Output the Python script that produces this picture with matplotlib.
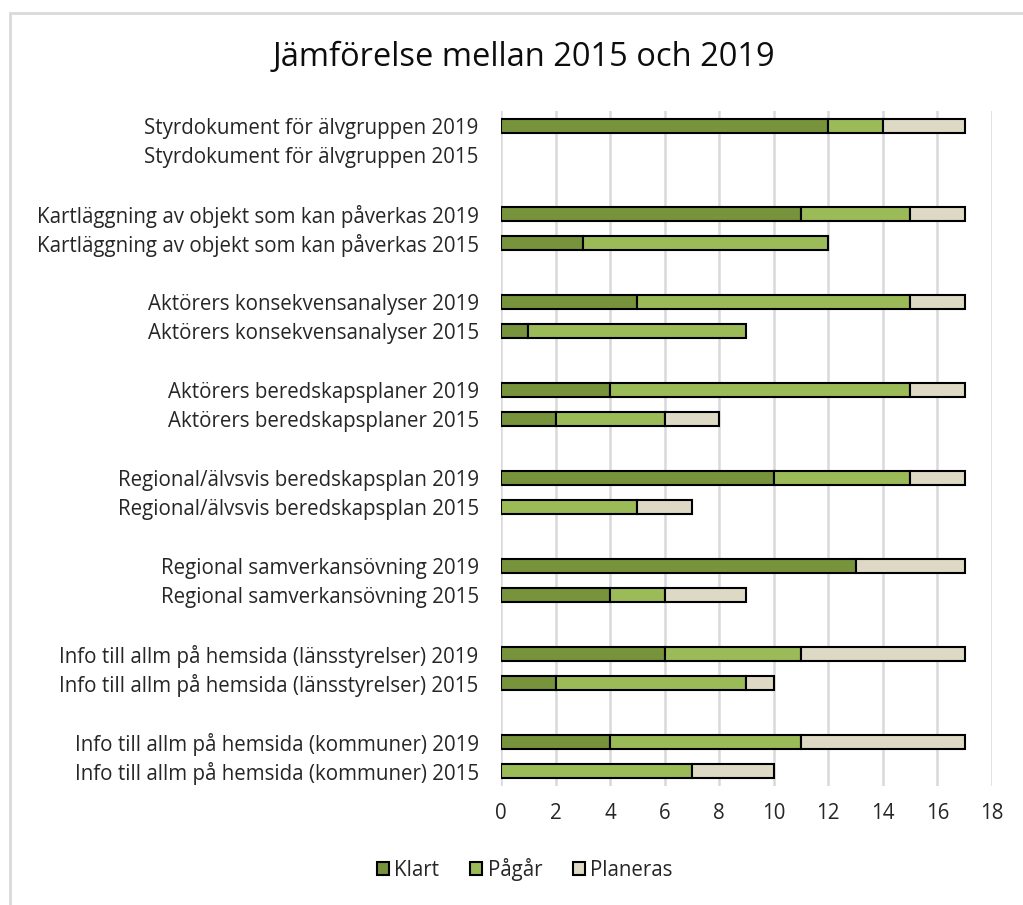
import matplotlib
matplotlib.use("Agg")
import matplotlib.pyplot as plt
from matplotlib.patches import Rectangle
import numpy as np

plt.rcParams['font.family'] = ['Open Sans', 'DejaVu Sans']

labels = [
    "Styrdokument för älvgruppen 2019",
    "Styrdokument för älvgruppen 2015",
    "Kartläggning av objekt som kan påverkas 2019",
    "Kartläggning av objekt som kan påverkas 2015",
    "Aktörers konsekvensanalyser 2019",
    "Aktörers konsekvensanalyser 2015",
    "Aktörers beredskapsplaner 2019",
    "Aktörers beredskapsplaner 2015",
    "Regional/älvsvis beredskapsplan 2019",
    "Regional/älvsvis beredskapsplan 2015",
    "Regional samverkansövning 2019",
    "Regional samverkansövning 2015",
    "Info till allm på hemsida (länsstyrelser) 2019",
    "Info till allm på hemsida (länsstyrelser) 2015",
    "Info till allm på hemsida (kommuner) 2019",
    "Info till allm på hemsida (kommuner) 2015",
]
klart   = [12, 0, 11, 3, 5, 1, 4, 2, 10, 0, 13, 4, 6, 2, 4, 0]
pagar   = [2, 0, 4, 9, 10, 8, 11, 4, 5, 5, 0, 2, 5, 7, 7, 7]
planeras = [3, 0, 2, 0, 2, 0, 2, 2, 2, 2, 4, 3, 6, 1, 6, 3]
series_names = ["Klart", "Pågår", "Planeras"]
colors = ["#77933C", "#9BBB59", "#DDD9C4"]

fig = plt.figure(figsize=(10.23, 9.05), dpi=100)
ax = fig.add_axes([0.4897, 0.1315, 0.48, 0.7458])

# row positions: pairs separated by an empty row
pos = np.array([3 * (i // 2) + (i % 2) for i in range(len(labels))], dtype=float)

left = np.zeros(len(labels))
for vals, name, c in zip([klart, pagar, planeras], series_names, colors):
    v = np.array(vals, dtype=float)
    mask = v > 0
    ax.barh(pos[mask], v[mask], left=left[mask], height=0.48, color=c,
            edgecolor="black", linewidth=1.5, label=name, zorder=3)
    left += v

ax.set_ylim(22.5, -0.5)
ax.set_xlim(0, 18)
ax.set_xticks(np.arange(0, 19, 2))
ax.set_yticks(pos)
ax.set_yticklabels(labels)
ax.tick_params(axis='both', length=0, labelsize=14.8, colors="#262626")
ax.tick_params(axis='x', pad=12)
ax.tick_params(axis='y', pad=16)
ax.grid(axis='x', color="#D9D9D9", linewidth=1.8, zorder=0)
for s in ax.spines.values():
    s.set_visible(False)

fig.text(0.512, 0.937, "Jämförelse mellan 2015 och 2019", ha='center', va='center',
         fontsize=23.5, color="#0D0D0D")

handles = [Rectangle((0, 0), 1, 1, facecolor=c, edgecolor="black", linewidth=1.5) for c in colors]
fig.legend(handles, series_names, loc='center', bbox_to_anchor=(0.513, 0.039), ncol=3,
           frameon=False, fontsize=14.8, handlelength=0.6, handleheight=0.6,
           handletextpad=0.25, columnspacing=1.5, labelcolor="#262626")

# chart border
fig.add_artist(Rectangle((0.0095, -0.01), 1.5, 0.9955, transform=fig.transFigure,
                         fill=False, edgecolor="#D9D9D9", linewidth=2))

fig.savefig("out.png", dpi=100, facecolor="white")
